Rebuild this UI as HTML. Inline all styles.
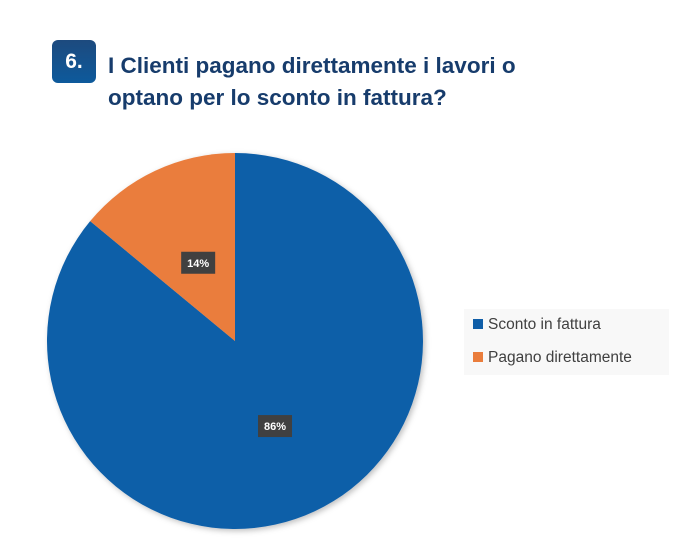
<!DOCTYPE html>
<html><head><meta charset="utf-8"><style>
body{margin:0;width:673px;height:538px;background:#fff;position:relative;overflow:hidden;font-family:"Liberation Sans",sans-serif}
#num{position:absolute;left:52px;top:40px;width:44px;height:43px;border-radius:6px;background:linear-gradient(#1d4a7e,#0d5a9c);color:#fff;font-weight:bold;font-size:21px;line-height:43px;text-align:center}
#title{position:absolute;left:108px;top:50px;color:#173c6c;font-weight:bold;font-size:22.5px;line-height:32px}
</style></head><body>
<div id="num">6.</div>
<div id="title">I Clienti pagano direttamente i lavori o<br>optano per lo sconto in fattura?</div>
<svg width="673" height="538" style="position:absolute;left:0;top:0">
<defs><filter id="sh" x="-10%" y="-10%" width="130%" height="130%"><feDropShadow dx="2" dy="2" stdDeviation="3" flood-opacity="0.25"/></filter></defs>
<g id="pie" filter="url(#sh)"></g>
<g id="labels"></g>
<rect x="464" y="309" width="205" height="66" fill="#f8f8f8"/>
<g id="legend"></g>
</svg>
<script>
const categories=["Sconto in fattura","Pagano direttamente"];
const values=[86,14];
const colors=["#0f5ea8","#ea7d3c"];
const cx=235,cy=341,r=188;
const ns="http://www.w3.org/2000/svg";
const pie=document.getElementById('pie'),labels=document.getElementById('labels'),legend=document.getElementById('legend');
const total=values.reduce((a,b)=>a+b,0);
let a0=0;
function pt(a,rr){return [cx+rr*Math.sin(a),cy-rr*Math.cos(a)];}
values.forEach((v,i)=>{
  const a1=a0+v/total*2*Math.PI;
  const [x0,y0]=pt(a0,r),[x1,y1]=pt(a1,r);
  const p=document.createElementNS(ns,'path');
  p.setAttribute('d',`M${cx},${cy}L${x0},${y0}A${r},${r} 0 ${a1-a0>Math.PI?1:0} 1 ${x1},${y1}Z`);
  p.setAttribute('fill',colors[i]);
  
  
  pie.appendChild(p);
  const mid=(a0+a1)/2;const [lx,ly]=pt(mid,r*(i==0?0.5:0.46));
  const g=document.createElementNS(ns,'g');
  
  
  const t=String(v)+'%';
  g.innerHTML=`<rect x="${lx-17}" y="${ly-11}" width="34" height="22" fill="#404040"/><text x="${lx}" y="${ly+4}" fill="#fff" font-size="11" font-weight="bold" text-anchor="middle">${t}</text>`;
  labels.appendChild(g);
  a0=a1;
});
categories.forEach((c,i)=>{
  const g=document.createElementNS(ns,'g');
  
  
  const y=326+i*33;
  g.innerHTML=`<rect x="473" y="${y-7}" width="10" height="10" fill="${colors[i]}"/><text x="488" y="${y+3}" font-size="15.5" fill="#404040" font-family="Liberation Sans, sans-serif">${c}</text>`;
  legend.appendChild(g);
});
</script>
</body></html>
